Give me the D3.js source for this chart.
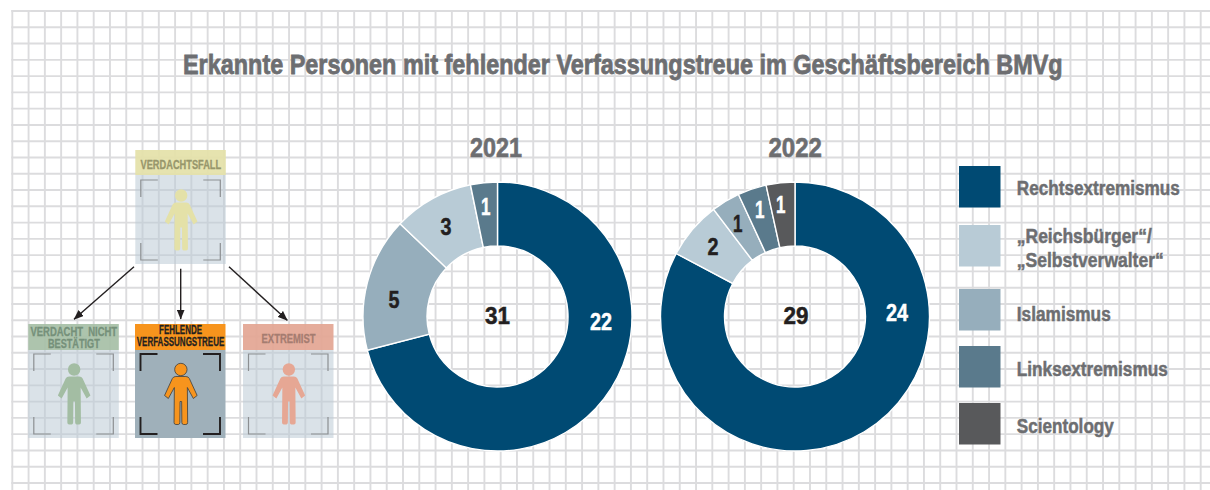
<!DOCTYPE html>
<html lang="de">
<head>
<meta charset="utf-8">
<script src="https://cdn.jsdelivr.net/npm/d3@7"></script>
<style>
html,body{margin:0;padding:0;background:#fff}
svg{display:block}
text{font-family:"Liberation Sans",sans-serif;font-weight:700}
</style>
</head>
<body>
<svg id="c" width="1210" height="490"></svg>
<script>
const titleText = "Erkannte Personen mit fehlender Verfassungstreue im Geschäftsbereich BMVg";
const categories = ["Rechtsextremismus", "„Reichsbürger“/\n„Selbstverwalter“", "Islamismus", "Linksextremismus", "Scientology"];
const categoryColors = ["#004a73", "#b8cbd6", "#96aebc", "#5a7a8c", "#58595b"];
const labelColors = ["#ffffff", "#231f20", "#231f20", "#ffffff", "#ffffff"];
const years = ["2021", "2022"];
const totals = [31, 29];
const order2021 = [0, 2, 1, 3];
const values2021 = [22, 5, 3, 1];
const order2022 = [0, 1, 2, 3, 4];
const values2022 = [24, 2, 1, 1, 1];
const panelNames = [["VERDACHTSFALL"], ["VERDACHT  NICHT", "BESTÄTIGT"], ["FEHLENDE", "VERFASSUNGSTREUE"], ["EXTREMIST"]];
const panelColors = ["#e4e1a8", "#a6bfa6", "#f7941d", "#e3a593"];
const figureColors = ["#e4e1a8", "#a3bda3", "#f7941d", "#e6a794"];
const panelTextColors = ["#97966b", "#75907a", "#231f20", "#a57c70"];

// Layout constants (not data)
const labelPolar2021 = [[93, 103.6], [-81, 104.8], [-30, 103], [-6, 110]];
const labelPolar2022 = [[88, 102], [-49.7, 107.5], [-31.6, 108.6], [-18.2, 112], [-7.2, 112.4]];
const legendWidths = [[163], [135, 147], [94], [151], [97]];
const legendBase = [[194.7], [242.7, 266.7], [321], [376], [432.7]];
const legendBoxY = [166, 225, 289, 346, 403];
const panelX = [135.3, 28.3, 135, 243];
const panelY = [150, 324, 324, 324];
const panelTextW = [[80.7], [86.7, 51.7], [43, 87.7], [54]];
const panelTextBase = [[19], [11.7, 23.7], [9.7, 22], [18.7]];

const svg = d3.select("#c");

// Places text and squeezes it horizontally to the wanted width (condensed look)
function fit(parent, str, x, y, width, size, fill, stroke) {
  const t = parent.append("text").attr("font-size", size).attr("fill", fill)
    .attr("stroke", fill).attr("stroke-width", stroke).attr("xml:space", "preserve").attr("paint-order", "stroke").text(str);
  const sx = width / t.node().getComputedTextLength();
  t.attr("transform", `translate(${x},${y}) scale(${sx},1)`);
  return t;
}

// Background grid
const gridX = d3.scaleLinear().domain([0, 73]).range([12.3, 1200.7]);
const gridY = d3.scaleLinear().domain([0, 29]).range([11, 483]);
const grid = svg.append("g").attr("stroke", "#dcdcde").attr("stroke-width", 1.9);
grid.selectAll("line.v").data(d3.range(0, 74)).join("line").attr("class", "v")
  .attr("x1", d => gridX(d)).attr("x2", d => gridX(d)).attr("y1", 10).attr("y2", 490);
grid.selectAll("line.h").data(d3.range(0, 30)).join("line").attr("class", "h")
  .attr("x1", 11.3).attr("x2", 1210).attr("y1", d => gridY(d)).attr("y2", d => gridY(d));

// Title
fit(svg, titleText, 183, 74, 880, 27, "#6d6e71", 0.75);

// Donuts
const pie = d3.pie().sort(null).value(d => d.v);
const rows = [
  {cx: 497.5, cy: 316.5, r: 134.5, values: values2021, order: order2021, polar: labelPolar2021},
  {cx: 795, cy: 316.5, r: 134.5, values: values2022, order: order2022, polar: labelPolar2022}
];
const yearLabelX = [470, 768.5];
const yearLabelW = [52, 53.5];
const totalX = [0, 1];
rows.forEach((row, i) => {
  const g = svg.append("g").attr("transform", `translate(${row.cx},${row.cy})`);
  const arc = d3.arc().innerRadius(70.5).outerRadius(row.r);
  const data = pie(row.values.map((v, k) => ({v, c: row.order[k], p: row.polar[k]})));
  g.selectAll("path").data(data).join("path").attr("d", arc)
    .attr("fill", d => categoryColors[d.data.c]).attr("stroke", "#fff").attr("stroke-width", 1.4);
  data.forEach(d => {
    const [px, py] = d3.pointRadial(d.data.p[0] * Math.PI / 180, d.data.p[1]);
    const s = String(d.data.v);
    const w = s.length * 11;
    fit(g, s, px - (s === "1" ? 5 : w / 2), py + 8, s === "1" ? 9.5 : w, 23, labelColors[d.data.c], 0.45);
  });
  fit(g, String(totals[i]), totalX[i] - 12.5, 7, 25, 24.5, "#231f20", 0.5);
  fit(svg, years[i], yearLabelX[i], 156.7, yearLabelW[i], 27, "#6d6e71", 0.6);
});

// Legend
const legend = svg.append("g");
categories.forEach((c, i) => {
  legend.append("rect").attr("x", 959).attr("y", legendBoxY[i]).attr("width", 41.5).attr("height", 41.5).attr("fill", categoryColors[i]);
  c.split("\n").forEach((line, k) => {
    fit(legend, line, 1016.8, legendBase[i][k], legendWidths[i][k], 20.4, "#6d6e71", 0.5);
  });
});

// Flow diagram
const panelW = 90.5, panelH = 114, headH = 26;
const personPath = "M-5 -18 L5 -18 Q7.5 -18 8.5 -16 L16.3 1 L12.5 4 L6.5 -7 L6.8 28 Q6.8 30 5 30 L2.5 30 Q1.2 30 1 28 L0.8 7 L-0.8 7 L-1 28 Q-1.2 30 -2.5 30 L-5 30 Q-6.8 30 -6.8 28 L-6.5 -7 L-12.5 4 L-16.3 1 L-8.5 -16 Q-7.5 -18 -5 -18 Z";
panelNames.forEach((names, i) => {
  const active = i === 2;
  const g = svg.append("g").attr("transform", `translate(${panelX[i]},${panelY[i]})`);
  g.append("rect").attr("y", headH - (i === 0 ? 1 : 0)).attr("width", panelW).attr("height", panelH - headH + (i === 0 ? 1 : 0))
    .attr("fill", active ? "#9fb0ba" : "#bccbd6").attr("fill-opacity", active ? 1 : 0.55);
  g.append("rect").attr("width", panelW).attr("height", i === 0 ? 25 : headH).attr("fill", panelColors[i]).attr("fill-opacity", active ? 1 : 0.92);
  const m = 5.5, t = 30, b = panelH - 4, s = 17;
  const corners = [
    `M${m} ${t + s}V${t}H${m + s}`, `M${panelW - m - s} ${t}H${panelW - m}V${t + s}`,
    `M${m} ${b - s}V${b}H${m + s}`, `M${panelW - m - s} ${b}H${panelW - m}V${b - s}`
  ];
  g.selectAll("path.c").data(corners).join("path").attr("class", "c").attr("d", d => d).attr("fill", "none")
    .attr("stroke", active ? "#231f20" : "#8c8f92").attr("stroke-width", active ? 1.9 : 1.2);
  const fig = g.append("g").attr("transform", `translate(${panelW / 2 + 0.6},70.5)`);
  fig.append("circle").attr("cy", -25).attr("r", 6.2).attr("fill", figureColors[i])
    .attr("stroke", active ? "#3d3d3d" : "none").attr("stroke-width", 0.8);
  fig.append("path").attr("d", personPath).attr("fill", figureColors[i])
    .attr("stroke", active ? "#3d3d3d" : "none").attr("stroke-width", 0.8);
  names.forEach((line, k) => {
    const w = panelTextW[i][k];
    fit(g, line, (panelW - w) / 2 + 0.3, panelTextBase[i][k], w, 12.6, panelTextColors[i], 0.3);
  });
});

// Arrows
const defs = svg.append("defs");
defs.append("marker").attr("id", "ah").attr("viewBox", "0 0 10 8").attr("refX", 9.5).attr("refY", 4)
  .attr("markerWidth", 10).attr("markerHeight", 8).attr("markerUnits", "userSpaceOnUse").attr("orient", "auto")
  .append("path").attr("d", "M0 0L10 4L0 8Z").attr("fill", "#231f20");
const arrows = [[134, 266.7, 74, 319.3], [180.7, 268.7, 180.7, 319], [229, 266.7, 287.3, 320.3]];
svg.selectAll("line.a").data(arrows).join("line").attr("class", "a")
  .attr("x1", d => d[0]).attr("y1", d => d[1]).attr("x2", d => d[2]).attr("y2", d => d[3])
  .attr("stroke", "#231f20").attr("stroke-width", 1.4).attr("marker-end", "url(#ah)");
</script>
</body>
</html>
